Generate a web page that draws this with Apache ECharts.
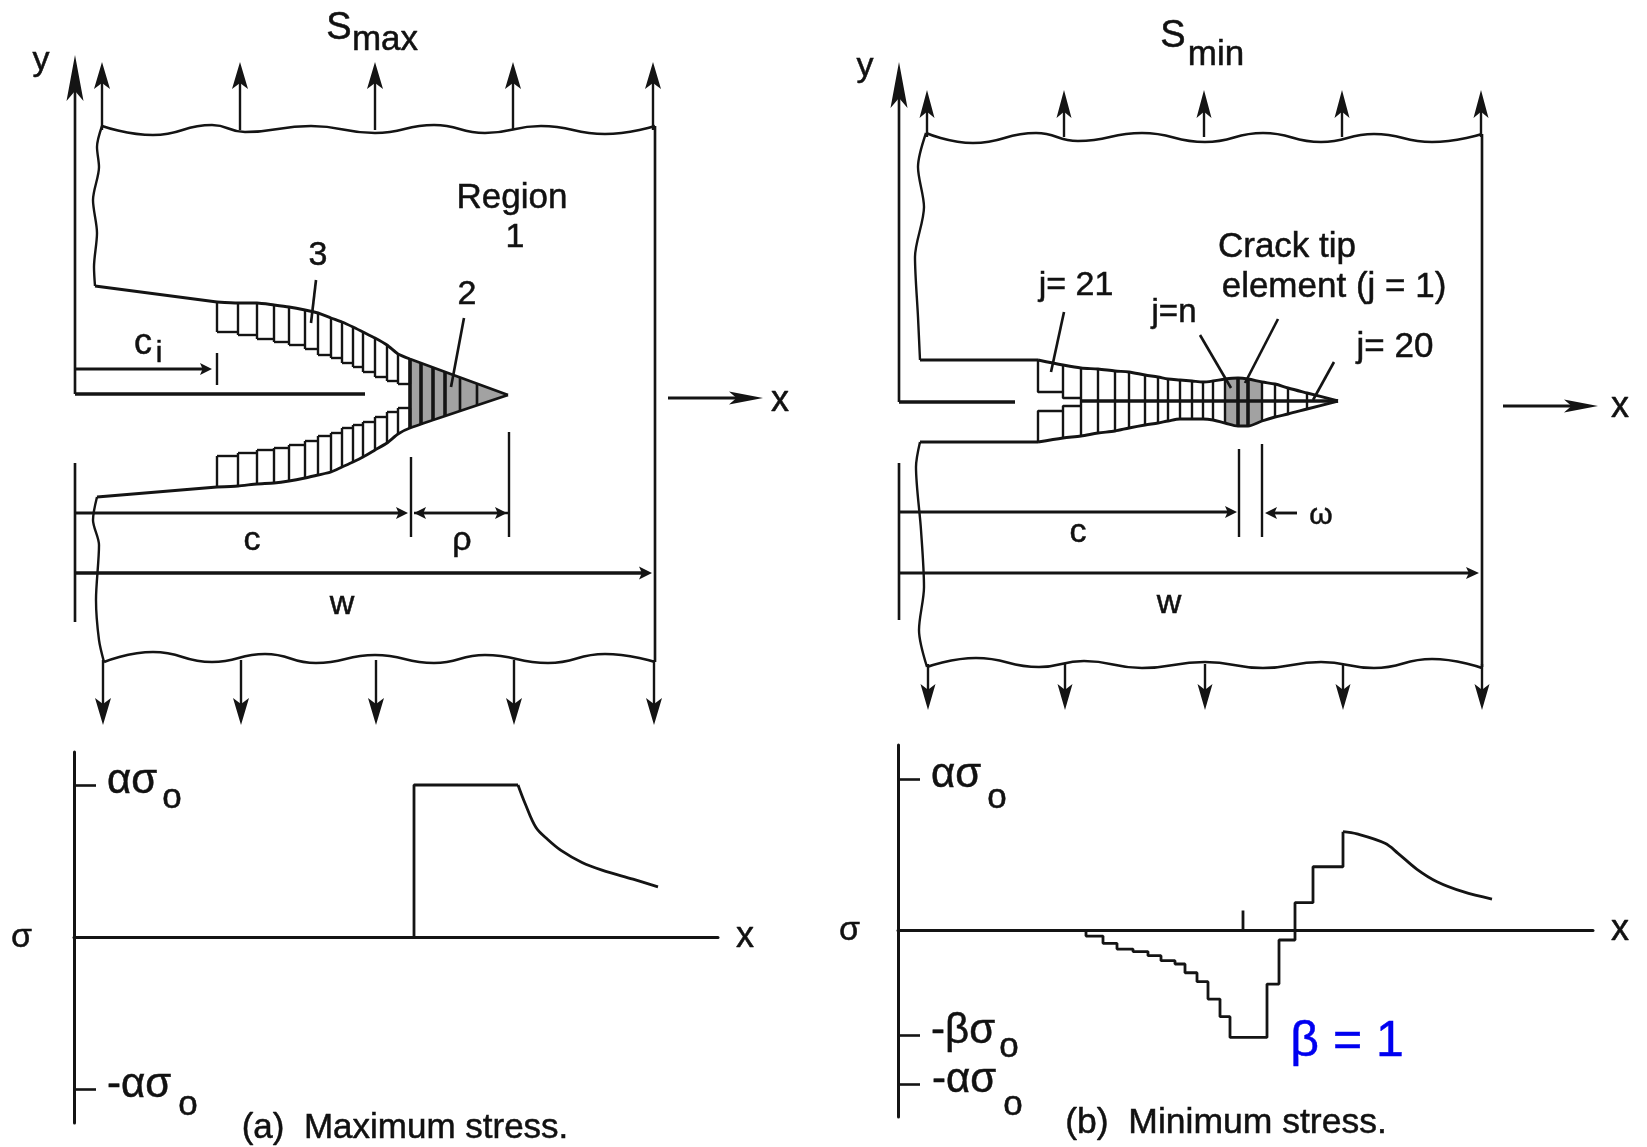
<!DOCTYPE html>
<html><head><meta charset="utf-8">
<style>html,body{margin:0;padding:0;background:#fff}#c{width:1647px;height:1147px;filter:blur(0.65px)}</style>
<script src="https://cdn.jsdelivr.net/npm/echarts@6/dist/echarts.min.js"></script>
</head><body><div id="c"></div>
<script>
const INK='#141414', GREY='#a2a2a2', BLUE='#0000f0', FONT='"Liberation Sans",Arial,sans-serif';

/* ---------- lower stress plots ---------- */
const stressAx=[340,340,444,451,462,474,487,508,528,559,584];
const stressAy=[0,1,1,.88,.72,.64,.57,.49,.44,.38,.33];
const stressBx=[188,188,205,205,219,219,235,235,250,250,263,263,277,277,287,287,299,299,310,310,322,322,332,332,369,369,381,381,397,397,415,415,445,445,459,487,500,519,539,565,594];
const stressBy=[0,-.04,-.04,-.088,-.088,-.126,-.126,-.143,-.143,-.17,-.17,-.203,-.203,-.225,-.225,-.283,-.283,-.342,-.342,-.457,-.457,-.574,-.574,-.711,-.711,-.358,-.358,-.066,-.066,.181,.181,.419,.419,.651,.636,.574,.508,.402,.32,.254,.205];
const markB=[[345,0],[345,.13]];
const ticksA=[-1,1], ticksB=[-1.02,-.7,1];
const tickLabelsA=[-1,1], tickLabelsB=[-.7,1];
const tickNames={'1':'{m|ασ}','-1':'{m|-ασ}','-0.7':'{m|-βσ}'};

/* ---------- plate outlines, left panel ---------- */
const waveTopA=[[102,126],[153,135],[212,125],[245,132],[311,126],[375,133],[434,125],[485,133],[541,126],[605,134],[655,126]];
const waveBotA=[[104,662],[153,652],[212,662],[265,654],[316,663],[375,655],[434,663],[485,655],[548,663],[605,654],[655,662]];
const edgeUpA=[[102,126],[97,147],[99,167],[93,200],[97,233],[94,267],[95,286]];
const edgeLoA=[[97,497],[93,520],[99,545],[96,600],[99,640],[104,662]];
const flankUpA=[[95,286],[217,302]];
const flankLoA=[[97,497],[217,487]];
const rightA=[[655,126],[655,662]];
const crackA=[[75,394],[365,394]];
const upX_A=[102,240,375,513,653];
const cellXA=[217,238,257,274,289,305,318,331,342,353,363,375,387,398,410];
const cellTopA=[302,303,303,305,307,310,313,318,322,327,332,338,345,354,359];
const stairUpA=[332,335,339,342,345,349,355,358,363,367,372,377,381,384];
const cellBotA=[487,486,484,483,481,478,475,472,467,462,457,450,443,434,428];
const stairLoA=[456,453,450,448,445,441,436,433,428,425,422,417,412,408];
const tipA=[508,395];
const shadeXA=[410,421,433,445,460,477];
const shadeTopA=[359,363,367,372,377,384];
const shadeBotA=[428,424,420,416,411,405];

/* ---------- plate outlines, right panel ---------- */
const waveTopB=[[926,133],[973,143],[1036,133],[1078,141],[1142,133],[1205,142],[1263,133],[1321,142],[1374,134],[1432,142],[1482,134]];
const waveBotB=[[927,667],[976,658],[1039,667],[1084,661],[1142,668],[1205,662],[1263,668],[1321,662],[1374,668],[1432,659],[1482,668]];
const edgeUpB=[[926,133],[918,167],[924,207],[915,257],[918,317],[920,360]];
const edgeLoB=[[920,442],[916,467],[921,530],[924,587],[919,630],[927,667]];
const flankUpB=[[920,360],[1038,360]];
const flankLoB=[[920,442],[1038,442]];
const rightB=[[1482,134],[1482,667]];
const crackB=[[899,402],[1015,402]];
const upX_B=[927,1064,1204,1342,1481];
const cellXB=[1038,1063,1081,1098,1115,1129,1145,1158,1168,1180,1192,1203,1213,1225,1238,1248,1262,1275,1288,1307];
const cellTopB=[360,365,368,369,371,372,375,377,379,380,381,382,381,379,378,379,382,384,388,393];
const cellBotB=[442,438,436,433,431,428,425,423,421,419,419,419,420,423,426,426,421,417,414,409];
const tipB=[1338,401];

/* ---------- text ---------- */
const labelText=['S','max','y','Region','1','3','2','c','i','x','c','ρ','w','(a)  Maximum stress.',
 'S','min','y','Crack tip','element (j = 1)','j= 21','j=n','j= 20','x','c','ω','w','(b)  Minimum stress.','o','o','o','o','o','-ασ','β = 1'];
const labelX=[339,385,41,512,515,318,467,143,159,780,252,462,342,405,1173,1216,865,1287,1334,1076,1174,1395,1620,1078,1321,1169,1226,172,188,997,1009,1013,964,1347];
const labelY=[29,40,61,198,238,256,295,344,354,401,541,541,605,1128,37,55,67,247,287,286,313,347,407,533,516,604,1123,798,1105,798,1047,1105,1080,1042];
const labelSize=[38,35,34,35,34,34,34,36,30,36,34,34,34,35,38,35,34,35,35,34,33,35,36,34,30,34,35.5,35,35,35,35,35,42,50];

/* ---------- drawing helpers ---------- */
const series=[];
function stroke(pts,w,smooth){
  series.push({type:'line',xAxisIndex:0,yAxisIndex:0,data:pts,symbol:'none',smooth:smooth||false,silent:true,
    animation:false,clip:false,z:2,lineStyle:{color:INK,width:(w||2)*1.2}});
}
const heads=[], shades=[];
function arrow(x1,y1,x2,y2,len,wid,w){
  const L=Math.hypot(x2-x1,y2-y1),ux=(x2-x1)/L,uy=(y2-y1)/L,px=-uy,py=ux;
  stroke([[x1,y1],[x2-ux*len*.7,y2-uy*len*.7]],w||2);
  heads.push([[x2,y2],[x2-ux*len+px*wid/2,y2-uy*len+py*wid/2],[x2-ux*len*.78,y2-uy*len*.78],[x2-ux*len-px*wid/2,y2-uy*len-py*wid/2]]);
}
function zip(a,b){return a.map((v,i)=>[v,b[i]]);}
function polygonSeries(list,color,z){
  series.push({type:'custom',coordinateSystem:'cartesian2d',xAxisIndex:0,yAxisIndex:0,silent:true,animation:false,clip:false,z,
    data:list.map(p=>p[0]),
    renderItem:(params,api)=>({type:'polygon',shape:{points:list[params.dataIndex].map(q=>api.coord(q))},style:{fill:color}})});
}

/* plate left */
stroke(waveTopA,2.2,.5);stroke(waveBotA,2.2,.5);stroke(edgeUpA,2,.3);stroke(edgeLoA,2,.3);
stroke(flankUpA,2.4);stroke(flankLoA,2.4);stroke(rightA,2.2);stroke(crackA,3);
stroke(zip(cellXA,cellTopA).concat([tipA]),2.4,.2);
stroke(zip(cellXA,cellBotA).concat([tipA]),2.4,.2);
shades.push([...zip(shadeXA,shadeTopA),tipA,...zip(shadeXA,shadeBotA).reverse()]);
cellXA.forEach((x,i)=>{
  const up=i<stairUpA.length?stairUpA[i]:stairUpA[i-1], lo=i<stairLoA.length?stairLoA[i]:stairLoA[i-1];
  const upPrev=i?stairUpA[i-1]:up, loPrev=i?stairLoA[i-1]:lo;
  stroke([[x,cellTopA[i]],[x,Math.max(up,upPrev)]],2);
  stroke([[x,cellBotA[i]],[x,Math.min(lo,loPrev)]],2);
  if(i<stairUpA.length){
    stroke([[x,stairUpA[i]],[cellXA[i+1],stairUpA[i]]],2);
    stroke([[x,stairLoA[i]],[cellXA[i+1],stairLoA[i]]],2);
  }
});
shadeXA.forEach((x,i)=>stroke([[x,shadeTopA[i]],[x,shadeBotA[i]]],i<4?3:2.2));
upX_A.forEach(x=>{
  arrow(x,130,x,62,27,16);
  arrow(x+1,660,x+1,725,27,16);
});
arrow(75,394,75,55,46,17,2.2);
arrow(668,398,763,398,34,13,2.4);
arrow(75,369,212,369,12,12,2.6);
stroke([[217,353],[217,385]],2);
stroke([[75,463],[75,622]],2.2);
stroke([[411,457],[411,537]],2);
stroke([[509,432],[509,537]],2);
arrow(75,513,408,513,12,12,2.6);
arrow(509,513,414,513,12,12,2);
arrow(414,513,507,513,12,12,2);
arrow(75,573,652,573,13,13,3);
stroke([[316,280],[311,323]],2.2);
stroke([[464,318],[451,387]],2.2);

/* plate right */
stroke(waveTopB,2.2,.5);stroke(waveBotB,2.2,.5);stroke(edgeUpB,2,.3);stroke(edgeLoB,2,.3);
stroke(flankUpB,2.4);stroke(flankLoB,2.4);stroke(rightB,2.2);stroke(crackB,3);
stroke(zip(cellXB,cellTopB).concat([tipB]),2.4,.3);
stroke(zip(cellXB,cellBotB).concat([tipB]),2.4,.3);
shades.push([[1225,379],[1238,378],[1248,379],[1262,382],[1262,421],[1248,426],[1238,426],[1225,423]]);
cellXB.forEach((x,i)=>{
  if(i===0){stroke([[x,360],[x,392],[1063,392],[1063,398],[1081,398]],2);stroke([[x,442],[x,411],[1063,411],[1063,406],[1081,406]],2);return;}
  if(i===1){stroke([[x,cellTopB[i]],[x,392]],2);stroke([[x,411],[x,cellBotB[i]]],2);return;}
  stroke([[x,cellTopB[i]],[x,cellBotB[i]]],i===14||i===15?3:2);
});
stroke([[1081,401],tipB],2.8);
upX_B.forEach(x=>{
  arrow(x,137,x,90,28,15);
  arrow(x+1,664,x+1,710,26,15);
});
arrow(899,402,899,62,46,17,2.2);
arrow(1503,406,1598,406,34,13,2.4);
stroke([[899,463],[899,620]],2.2);
stroke([[1239,449],[1239,537]],2);
stroke([[1262,444],[1262,537]],2);
arrow(899,512,1237,512,12,12,2.6);
arrow(1297,513,1265,513,12,12,2.4);
arrow(899,573,1479,573,13,12,2.6);
stroke([[1064,312],[1051,372]],2.2);
stroke([[1200,335],[1231,388]],2.2);
stroke([[1278,319],[1245,383]],2.2);
stroke([[1334,362],[1313,400]],2.2);

polygonSeries(shades,GREY,1);
polygonSeries(heads,INK,3);

/* stress curves through their own axes */
function stressLine(axis,data,smooth){
  series.push({type:'line',xAxisIndex:axis,yAxisIndex:axis,data,symbol:'none',smooth,silent:true,animation:false,lineStyle:{color:INK,width:2.8}});
}
const curveA=zip(stressAx,stressAy), curveB=zip(stressBx,stressBy);
stressLine(1,curveA.slice(0,3),false);
stressLine(1,curveA.slice(2),.35);
stressLine(2,curveB.slice(0,34),false);
stressLine(2,curveB.slice(33),.35);
stressLine(2,markB,false);

/* text */
series.push({type:'scatter',xAxisIndex:0,yAxisIndex:0,symbolSize:0,silent:true,animation:false,clip:false,z:10,
  itemStyle:{opacity:1},
  data:labelText.map((t,i)=>{
    const c=i===labelText.length-1?BLUE:'#111';
    return {value:[labelX[i],labelY[i]],
      label:{show:true,position:'inside',opacity:1,formatter:t,fontFamily:FONT,fontSize:labelSize[i],color:c,textBorderColor:c,textBorderWidth:.5}};
  })});

const richTick={m:{fontFamily:FONT,fontSize:42,lineHeight:36,color:'#111',textBorderColor:'#111',textBorderWidth:.5,padding:[0,0,8,0]}};
function stressY(idx,min,max,ticks,labels,gap,inner){
  return {gridIndex:idx,type:'value',min,max,
    axisLine:{show:true,onZero:false,lineStyle:{color:INK,width:3}},splitLine:{show:false},
    axisTick:{show:true,inside:true,length:22,customValues:ticks,lineStyle:{color:INK,width:2.6}},
    axisLabel:{show:true,inside:true,margin:inner,customValues:labels,showMinLabel:true,showMaxLabel:true,hideOverlap:false,
      formatter:v=>tickNames[String(v)]||'',rich:richTick},
    name:'σ',nameLocation:'middle',nameGap:gap,nameRotate:0,nameTextStyle:{fontFamily:FONT,fontSize:34,color:'#111',textBorderColor:'#111',textBorderWidth:.5}};
}
function stressX(idx,max,gap){
  return {gridIndex:idx,type:'value',min:0,max,
    axisLine:{show:true,onZero:true,lineStyle:{color:INK,width:3}},axisTick:{show:false},axisLabel:{show:false},splitLine:{show:false},
    name:'x',nameLocation:'end',nameGap:gap,nameTextStyle:{fontFamily:FONT,fontSize:36,color:'#111',textBorderColor:'#111',textBorderWidth:.5}};
}
const option={
  backgroundColor:'#fff',animation:false,
  grid:[
    {left:0,top:0,width:1647,height:1147,show:false},
    {left:74,top:752,width:644,height:371},
    {left:898,top:745,width:695,height:372}
  ],
  xAxis:[
    {gridIndex:0,type:'value',min:0,max:1647,show:false},
    stressX(1,644,18),
    stressX(2,695,18)
  ],
  yAxis:[
    {gridIndex:0,type:'value',min:0,max:1147,inverse:true,show:false},
    stressY(1,-1.224,1.217,ticksA,tickLabelsA,42,33),
    stressY(2,-1.238,1.225,ticksB,tickLabelsB,38,33)
  ],
  series
};
const chart=echarts.init(document.getElementById('c'),null,{renderer:'canvas',width:1647,height:1147});
chart.setOption(option);
</script></body></html>
